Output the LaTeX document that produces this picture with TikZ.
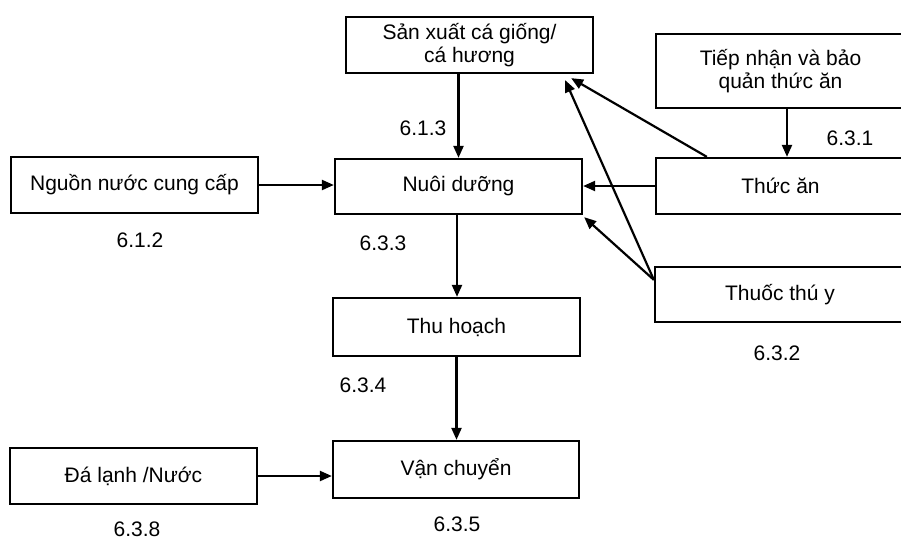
\documentclass[tikz,border=0pt]{standalone}
\usepackage{fontspec}
\setmainfont{Liberation Sans}
\usetikzlibrary{arrows.meta}
\begin{document}
\begin{tikzpicture}[x=1pt,y=-1pt,
  box/.style={draw=black, line width=2.3pt, inner sep=0pt, align=center,
    font=\fontsize{21}{23}\selectfont},
  lbl/.style={inner sep=0pt, font=\fontsize{21}{23}\selectfont},
  conn/.style={line width=2.2pt, -{Triangle[length=12pt,width=10pt]}}]
\useasboundingbox[fill=white] (0,0) rectangle (901,541);
% boxes
\node[box, minimum width=247pt, minimum height=56pt] (sx) at (469.5,45) {Sản xuất cá giống/\\cá hương};
\node[box, minimum width=249pt, minimum height=74pt] (tn) at (780.5,71) {Tiếp nhận và bảo\\quản thức ăn};
\node[box, minimum width=247pt, minimum height=56pt] (ng) at (134.5,185) {Nguồn nước cung cấp};
\node[box, minimum width=247pt, minimum height=55pt] (nd) at (458.5,186.5) {Nuôi dưỡng};
\node[box, minimum width=249pt, minimum height=56pt] (ta) at (780.5,186) {Thức ăn};
\node[box, minimum width=250pt, minimum height=55pt] (tt) at (780,294.5) {Thuốc thú y};
\node[box, minimum width=247pt, minimum height=58pt] (th) at (456.5,327) {Thu hoạch};
\node[box, minimum width=247pt, minimum height=56pt] (dl) at (133.5,476) {Đá lạnh /Nước};
\node[box, minimum width=246pt, minimum height=57pt] (vc) at (456,469.5) {Vận chuyển};
% labels
\node[lbl] (l613) at (423,128) {6.1.3};
\node[lbl] (l631) at (850,138) {6.3.1};
\node[lbl] (l612) at (140,240) {6.1.2};
\node[lbl] (l633) at (383,243) {6.3.3};
\node[lbl] (l632) at (777,353) {6.3.2};
\node[lbl] (l634) at (363,385) {6.3.4};
\node[lbl] (l638) at (137,529) {6.3.8};
\node[lbl] (l635) at (457,524) {6.3.5};
% connector points
\coordinate (taout) at ([xshift=52pt]ta.north west);
\coordinate (ttout) at ([yshift=-14pt]tt.north west);
\coordinate (sxin1) at ([xshift=-23pt,yshift=-4pt]sx.south east);
\coordinate (sxin2) at ([xshift=-29pt,yshift=-6pt]sx.south east);
% connectors
\draw[conn] (sx.south -| nd.north) -- (nd.north);
\draw[conn] ([xshift=6.5pt]tn.south) -- ([xshift=6.5pt]ta.north);
\draw[conn] (ng.east) -- (ng.east -| nd.west);
\draw[conn] (ta.west) -- (ta.west -| nd.east);
\draw[conn] (taout) -- (sxin1);
\draw[conn] (ttout) -- (sxin2);
\draw[conn] (ttout) -- ([xshift=1pt,yshift=-2pt]nd.south east);
\draw[conn] ([xshift=-1.5pt]nd.south) -- ([xshift=-1.5pt]nd.south |- th.north);
\draw[conn] (th.south) -- (th.south |- vc.north);
\draw[conn] (dl.east) -- (dl.east -| vc.west);
\end{tikzpicture}
\end{document}
